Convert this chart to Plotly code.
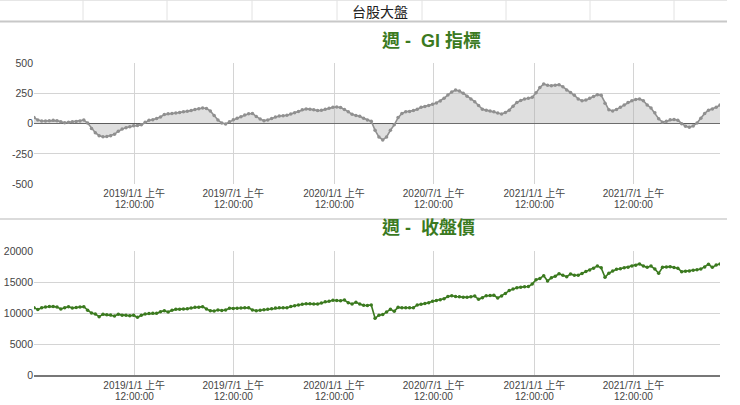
import pandas as pd
import plotly.graph_objects as go

# ---- data ----
start_date = "2018-07-02"
n_weeks = 180
dates = pd.date_range(start_date, periods=n_weeks, freq="7D")

gi_values = [
    50, 30, 22, 22, 25, 28, 25, 15, 8, 12, 15, 18, 22, 30, 5, -40, -75, -100, -108, -106,
    -100, -88, -62, -45, -33, -25, -17, -15, -10, 12, 28, 33, 42, 55, 75, 82, 84, 88, 92, 98,
    103, 108, 118, 124, 130, 126, 105, 68, 30, 5, -3, 15, 32, 45, 58, 72, 82, 84, 60, 38,
    25, 30, 42, 55, 63, 66, 69, 80, 90, 100, 115, 122, 120, 115, 108, 110, 120, 128, 135, 138,
    133, 118, 98, 78, 68, 62, 45, 30, 20, -55, -110, -135, -110, -55, -10, 50, 85, 98, 100, 108,
    120, 135, 143, 150, 160, 172, 188, 210, 238, 262, 278, 270, 252, 228, 205, 182, 150, 120, 112, 104,
    98, 88, 80, 92, 112, 145, 175, 192, 205, 210, 218, 255, 300, 329, 318, 315, 318, 323, 305, 278,
    258, 235, 205, 190, 195, 210, 225, 240, 235, 170, 115, 105, 118, 135, 155, 175, 190, 200, 205, 190,
    155, 130, 90, 40, 12, 20, 33, 35, 28, 0, -22, -30, -20, 5, 45, 85, 112, 122, 135, 155,
]

close_values = [
    10910, 10600, 10900, 11000, 11100, 11080, 11020, 10700, 10900, 11070,
    10860, 10950, 11020, 11070, 10500, 10050, 9900, 9470, 9840, 9780,
    9730, 9570, 9840, 9700, 9680, 9630, 9700, 9360, 9700, 9900,
    9970, 10000, 10000, 10250, 10430, 10210, 10500, 10640, 10660, 10700,
    10720, 10850, 10960, 10980, 11070, 10700, 10430, 10380, 10540, 10450,
    10540, 10800, 10780, 10800, 10850, 10910, 10880, 10540, 10430, 10500,
    10580, 10640, 10750, 10860, 10880, 10910, 10900, 11100, 11230, 11350,
    11450, 11550, 11520, 11500, 11480, 11650, 11850, 11950, 12090, 12050,
    12030, 12140, 11700, 11500, 11770, 11500, 11280, 11250, 11340, 9200,
    9700, 9800, 10200, 10640, 10350, 10960, 10910, 10880, 10900, 10910,
    11350, 11440, 11560, 11700, 11950, 12050, 12200, 12350, 12700, 12830,
    12700, 12650, 12600, 12570, 12650, 12780, 12250, 12500, 12830, 12850,
    12890, 12460, 12800, 13200, 13650, 13900, 14100, 14200, 14250, 14300,
    14700, 15400, 15600, 16040, 15190, 15700, 15950, 16350, 16100, 15880,
    16310, 16100, 16100, 16400, 16700, 16950, 17220, 17590, 17300, 15780,
    16450, 16800, 17060, 17150, 17300, 17380, 17600, 17700, 17920, 17590,
    17380, 17590, 17100, 16420, 17380, 17450, 17490, 17350, 17220, 16690,
    16750, 16790, 16900, 17000, 17100, 17450, 17860, 17380, 17750, 17920,
]

x_tick_dates = ["2019-01-01", "2019-07-01", "2020-01-01", "2020-07-01", "2021-01-01", "2021-07-01"]
x_tick_labels = ["2019/1/1 上午", "2019/7/1 上午", "2020/1/1 上午",
                 "2020/7/1 上午", "2021/1/1 上午", "2021/7/1 上午"]
x_tick_time = "12:00:00"
gi_ticks = [-500, -250, 0, 250, 500]
gi_tick_labels = ["-500", "-250", "0", "250", "500"]
close_ticks = [0, 5000, 10000, 15000, 20000]
close_tick_labels = ["0", "5000", "10000", "15000", "20000"]

header_text = "台股大盤"
title_gi = "週 -  GI 指標"
title_close = "週 -  收盤價"

# ---- figure ----
W, H = 740, 405
def py(px):
    return 1 - px / H

FONT = "Arial, 'Liberation Sans', 'Noto Sans CJK TC', sans-serif"
GREEN = "#3b7a1f"
GRAY = "#909090"
TOP_BOTTOM_PX, TOP_TOP_PX = 184, 63.3
BOT_BOTTOM_PX, BOT_TOP_PX = 375.7, 251

fig = go.Figure()
fig.add_trace(go.Scatter(
    x=dates, y=gi_values, mode="lines+markers", xaxis="x", yaxis="y",
    line=dict(color=GRAY, width=1.6), marker=dict(color=GRAY, size=3.5),
    fill="tozeroy", fillcolor="rgba(170,170,170,0.38)", hoverinfo="x+y", showlegend=False,
))
fig.add_trace(go.Scatter(
    x=dates, y=close_values, mode="lines+markers", xaxis="x2", yaxis="y2",
    line=dict(color=GREEN, width=1.6), marker=dict(color=GREEN, size=3.5),
    hoverinfo="x+y", showlegend=False,
))

xdom = [34 / W, 720 / W]
tfont = dict(family=FONT, size=10.5, color="#444")
xfont = dict(family=FONT, size=10, color="#444")
xcommon = dict(
    type="date", range=[dates[0], dates[-1]], tickvals=x_tick_dates, ticktext=x_tick_labels,
    showgrid=True, gridcolor="#d4d4d4", gridwidth=1, zeroline=False, showline=False,
    ticks="", tickfont=xfont, domain=xdom, automargin=False, ticklabelstandoff=2,
)
fig.update_layout(
    width=W, height=H, margin=dict(l=0, r=0, t=0, b=0, autoexpand=False),
    paper_bgcolor="white", plot_bgcolor="white",
    xaxis=dict(xcommon, anchor="y"),
    xaxis2=dict(xcommon, anchor="y2"),
    yaxis=dict(domain=[py(TOP_BOTTOM_PX), py(TOP_TOP_PX)], range=[-500, 500], tickvals=gi_ticks,
               ticktext=gi_tick_labels,
               showgrid=True, gridcolor="#d4d4d4", zeroline=True, zerolinecolor="#555",
               zerolinewidth=1, showline=False, ticks="", automargin=False,
               tickfont=tfont, anchor="x"),
    yaxis2=dict(domain=[py(BOT_BOTTOM_PX), py(BOT_TOP_PX)], range=[0, 20000], tickvals=close_ticks,
                ticktext=close_tick_labels,
                showgrid=True, gridcolor="#d4d4d4", zeroline=True, zerolinecolor="#777",
                zerolinewidth=1.5, showline=False, ticks="", automargin=False,
                tickfont=tfont, anchor="x2"),
    font=dict(family=FONT),
)

# second line of the x tick labels
for xr, bottom in (("x", TOP_BOTTOM_PX), ("x2", BOT_BOTTOM_PX)):
    for d in x_tick_dates:
        fig.add_annotation(text=x_tick_time, x=d, xref=xr, y=py(bottom + 20.5), yref="paper",
                           showarrow=False, xanchor="center", yanchor="middle",
                           font=xfont, borderpad=0)

shapes = []
# header rule lines
shapes.append(dict(type="line", xref="paper", yref="paper", x0=0, x1=727 / W, y0=py(0.5), y1=py(0.5),
                   line=dict(color="#e6e6e6", width=1)))
shapes.append(dict(type="line", xref="paper", yref="paper", x0=0, x1=727 / W, y0=py(21.5), y1=py(21.5),
                   line=dict(color="#c8c8c8", width=2)))
for vx in [83, 167, 252, 337, 422, 506, 590, 674]:
    shapes.append(dict(type="line", xref="paper", yref="paper", x0=vx / W, x1=vx / W, y0=py(0), y1=py(20.5),
                       line=dict(color="#e2e2e2", width=1)))
# separator between charts
shapes.append(dict(type="line", xref="paper", yref="paper", x0=0, x1=727 / W, y0=py(219), y1=py(219),
                   line=dict(color="#cfcfcf", width=1.5)))
fig.update_layout(shapes=shapes)

fig.add_annotation(text=header_text, x=380 / W, y=py(11.5), xref="paper", yref="paper",
                   showarrow=False, xanchor="center", yanchor="middle",
                   font=dict(family="'Noto Sans CJK TC', sans-serif", size=14, color="#222"))
TFONT = dict(family="Arial, 'Liberation Sans', 'Noto Sans CJK TC', sans-serif", size=18, color=GREEN)
fig.add_annotation(text="<b>" + title_gi + "</b>", x=431 / W, y=py(40.5), xref="paper", yref="paper",
                   showarrow=False, xanchor="center", yanchor="middle", font=TFONT)
fig.add_annotation(text="<b>" + title_close + "</b>", x=428 / W, y=py(227.5), xref="paper", yref="paper",
                   showarrow=False, xanchor="center", yanchor="middle", font=TFONT)

fig.write_html("out.html", config={"displayModeBar": False},
               post_script="document.body.style.margin='0';document.body.style.overflow='hidden';")
